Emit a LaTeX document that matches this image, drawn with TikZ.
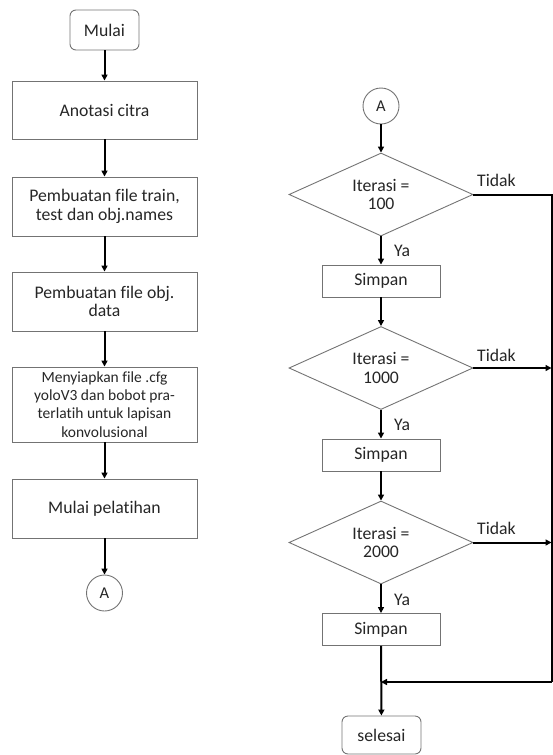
\documentclass[tikz,border=0pt]{standalone}
\usepackage{fontspec}
\setmainfont{Carlito}[Ligatures=NoCommon]
\usetikzlibrary{shapes.geometric,arrows.meta}
\begin{document}
\begin{tikzpicture}[x=1pt,y=-1pt,
  base/.style={draw=black!55,line width=0.9pt,inner sep=0pt,align=center,text=black!85,font=\fontsize{17.7}{18.5}\selectfont},
  box/.style={base,rectangle,minimum width=185pt,minimum height=59pt},
  sbox/.style={base,rectangle,minimum width=118pt,minimum height=32pt},
  term/.style={base,rectangle,rounded corners=6pt},
  conn/.style={base,circle,minimum size=36pt,font=\fontsize{16.5}{18}\selectfont},
  dec/.style={base,diamond,aspect=2.2,minimum width=184pt,minimum height=83pt},
  lbl/.style={inner sep=0pt,text=black!85,font=\fontsize{17.7}{18.5}\selectfont},
  arr/.style={line width=2pt,-{Triangle[length=6pt,width=6pt]}},
  ln/.style={line width=2pt}
]
\useasboundingbox (0,0) rectangle (553,755);
% left column
\node[term,minimum width=69pt,minimum height=40pt] (mulai) at (104.5,30) {Mulai};
\node[box,minimum height=58pt] (anot) at (104.5,110) {Anotasi citra};
\node[box] (train) at (104.5,206.5) {Pembuatan file train,\\test dan obj.names};
\node[box] (objd) at (104.5,301.5) {Pembuatan file obj.\\data};
\node[box,minimum height=75pt,font=\fontsize{15.5}{18.3}\selectfont] (cfg) at (104.5,404.5) {Menyiapkan file .cfg\\yoloV3 dan bobot pra-\\terlatih untuk lapisan\\konvolusional};
\node[box] (latih) at (104.5,508.5) {Mulai pelatihan};
\node[conn] (a1) at (104.5,593) {A};
\draw[arr] (mulai) -- (anot);
\draw[arr] (anot) -- (train);
\draw[arr] (train) -- (objd);
\draw[arr] (objd) -- (cfg);
\draw[arr] (cfg) -- (latih);
\draw[arr] (latih) -- (a1);
% right column
\node[conn] (a2) at (381,106) {A};
\node[dec] (d1) at (381,194.5) {Iterasi =\\100};
\node[sbox] (s1) at (381,281) {Simpan};
\node[dec] (d2) at (381,368) {Iterasi =\\1000};
\node[sbox] (s2) at (381,455) {Simpan};
\node[dec] (d3) at (381,542.5) {Iterasi =\\2000};
\node[sbox] (s3) at (381,629.5) {Simpan};
\node[term,minimum width=79pt,minimum height=38pt] (sel) at (381.5,735) {selesai};
\coordinate (rt) at (551.5,194.5);
\coordinate (rb) at (551.5,682);
\coordinate (jn) at (381,682);
\draw[arr] (a2) -- (d1);
\draw[arr] (d1) -- (s1);
\draw[arr] (s1) -- (d2);
\draw[arr] (d2) -- (s2);
\draw[arr] (s2) -- (d3);
\draw[arr] (d3) -- (s3);
\draw[arr] (s3) -- (sel);
\draw[ln] (d1.east) -- (rt) -- (rb);
\draw[arr] (rb) -- (jn);
\draw[arr] (d2.east) -- (d2.east -| rt);
\draw[arr] (d3.east) -- (d3.east -| rt);
\node[lbl,anchor=west] (ya1) at (394,251) {Ya};
\node[lbl,anchor=west] (ya2) at (394,425) {Ya};
\node[lbl,anchor=west] (ya3) at (394,600) {Ya};
\node[lbl,anchor=west] (t1) at (477,180) {Tidak};
\node[lbl,anchor=west] (t2) at (477,355) {Tidak};
\node[lbl,anchor=west] (t3) at (477,528) {Tidak};
\end{tikzpicture}
\end{document}
